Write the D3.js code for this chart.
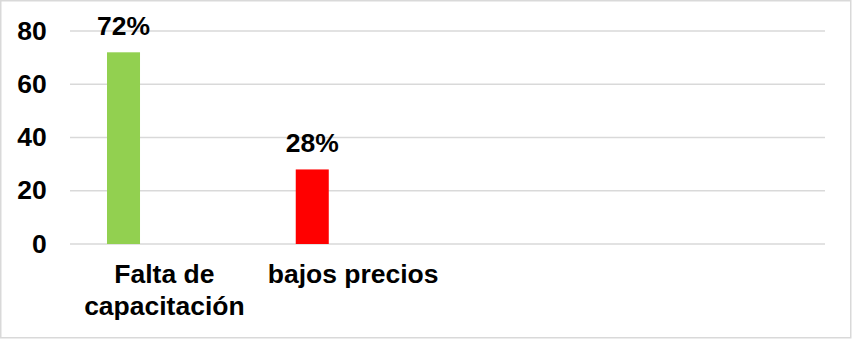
<!DOCTYPE html>
<html>
<head>
<meta charset="utf-8">
<script src="https://cdn.jsdelivr.net/npm/d3@7"></script>
<style>
  body { margin: 0; background: #fff; }
  svg { display: block; font-family: "Liberation Sans", Arial, sans-serif; font-weight: bold; }
</style>
</head>
<body>
<div id="chart"></div>
<script>
// chart data
const categories = ["Falta de capacitación", "bajos precios", "", ""];
const series = ["s1", "s2"];
const values = [72, 28, null, null];
const labels = ["72%", "28%", "", ""];
const barColors = ["#92D050", "#FF0000"];
const yTicks = [0, 20, 40, 60, 80];

const width = 852, height = 339;
const margin = {top: 31, right: 27, bottom: 95, left: 70};
const innerW = width - margin.left - margin.right;
const innerH = height - margin.top - margin.bottom;
const fontSize = 25;
const stretch = "scale(1.06,1)"; // text in the source is a bit wide

const svg = d3.select("#chart").append("svg")
    .attr("width", width)
    .attr("height", height);

// outer border
svg.append("rect")
    .attr("x", 0.75).attr("y", 0.75)
    .attr("width", width - 2).attr("height", height - 2)
    .attr("fill", "#fff")
    .attr("stroke", "#d9d9d9")
    .attr("stroke-width", 1.5);

const g = svg.append("g")
    .attr("transform", "translate(" + margin.left + "," + margin.top + ")");

const x0 = d3.scaleBand()
    .domain(d3.range(categories.length))
    .range([0, innerW])
    .padding(0);

const x1 = d3.scaleBand()
    .domain(series)
    .range([0, x0.bandwidth()])
    .paddingInner(0.596)
    .paddingOuter(0.4526);

const y = d3.scaleLinear()
    .domain([0, 80])
    .range([innerH, 0]);

// gridlines
g.append("g")
    .selectAll("line")
    .data(yTicks)
    .join("line")
    .attr("x1", 0).attr("x2", innerW)
    .attr("y1", d => y(d)).attr("y2", d => y(d))
    .attr("stroke", "#d9d9d9")
    .attr("stroke-width", 1.5);

// y axis labels
const yAxis = g.append("g")
    .call(d3.axisLeft(y).tickValues(yTicks).tickSize(0).tickPadding(22));
yAxis.select(".domain").remove();
yAxis.selectAll("text")
    .attr("font-size", fontSize)
    .attr("font-weight", "bold")
    .attr("font-family", "Liberation Sans, Arial, sans-serif")
    .attr("fill", "#000")
    .attr("transform", stretch);

// bars (first series only carries values)
const barData = values.map((v, i) => ({i, v})).filter(d => d.v != null);

g.append("g")
    .selectAll("rect")
    .data(barData)
    .join("rect")
    .attr("x", d => x0(d.i) + x1("s1"))
    .attr("y", d => y(d.v))
    .attr("width", x1.bandwidth())
    .attr("height", d => y(0) - y(d.v))
    .attr("fill", d => barColors[d.i]);

// value labels
g.append("g")
    .selectAll("text")
    .data(barData)
    .join("text")
    .attr("transform", d => "translate(" + (x0(d.i) + x1("s1") + x1.bandwidth() / 2) + "," + (y(d.v) - 17) + ") " + stretch)
    .attr("text-anchor", "middle")
    .attr("font-size", fontSize)
    .text(d => labels[d.i]);

// x axis labels with wrapping
const xAxis = g.append("g")
    .attr("transform", "translate(0," + innerH + ")")
    .call(d3.axisBottom(x0).tickSize(0).tickFormat(i => categories[i]));
xAxis.select(".domain").remove();
xAxis.selectAll("text")
    .attr("font-size", fontSize)
    .attr("font-weight", "bold")
    .attr("font-family", "Liberation Sans, Arial, sans-serif")
    .attr("fill", "#000")
    .attr("y", 0)
    .attr("dy", 0)
    .attr("transform", stretch)
    .each(function() { wrap(d3.select(this), x0.bandwidth() - 10); });

function wrap(text, maxW) {
    const words = text.text().split(/\s+/).filter(w => w);
    text.text(null);
    let line = [];
    let lineNo = 0;
    let tspan = text.append("tspan").attr("x", 0).attr("y", 39);
    for (const w of words) {
        line.push(w);
        tspan.text(line.join(" "));
        if (tspan.node().getComputedTextLength() * 1.06 > maxW && line.length > 1) {
            line.pop();
            tspan.text(line.join(" "));
            line = [w];
            lineNo++;
            tspan = text.append("tspan").attr("x", 0).attr("y", 39 + lineNo * 31.7).text(w);
        }
    }
}
</script>
</body>
</html>
